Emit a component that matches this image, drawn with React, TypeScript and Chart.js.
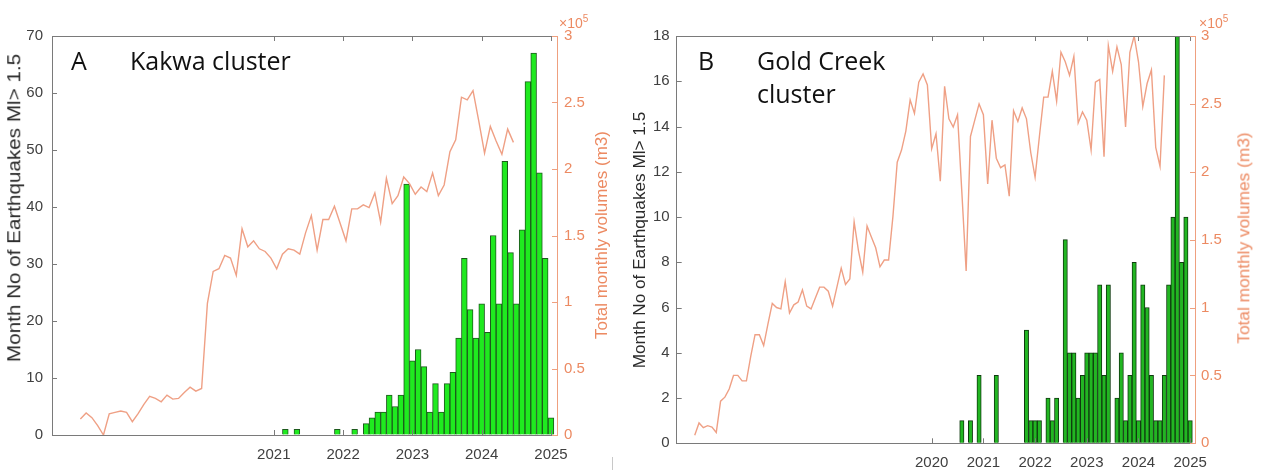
import React, { useEffect, useRef } from 'react';
import { Chart, registerables } from 'chart.js';

Chart.register(...registerables);

// ---------- DATA ----------
// Panel A – Kakwa cluster
const yearTicksA = [2021, 2022, 2023, 2024, 2025];
const quakesAStart = 2021; // first monthly bar (decimal year)
const quakesA = [
  0, 0, 1, 0, 1, 0, 0, 0, 0, 0, 0, 1, 0, 0, 1, 0,
  2, 3, 4, 4, 7, 5, 7, 44, 13, 15, 12, 4, 9, 4, 9, 11, 17,
  31, 22, 17, 23, 18, 35, 23, 48, 32, 23, 36, 62, 67, 46, 31, 3,
];
const volumesAStart = 2018 + 2.5 / 12; // first monthly volume
const volumesA = [
  12000, 16500, 13000, 7000, 0, 16000, 17000, 18000, 17000, 10000,
  16000, 23000, 29000, 27500, 25000, 30000, 27000, 27500, 32000, 36000,
  33000, 35000, 99000, 123000, 125000, 135000, 133000, 120000, 155000, 141500,
  146000, 140000, 138000, 133000, 125000, 136000, 140000, 139000, 136000, 152000,
  165000, 139000, 162000, 162000, 172000, 159000, 146000, 170000, 170000, 173000,
  171000, 182000, 160000, 193000, 174000, 180000, 194000, 189000, 181000, 186500,
  183000, 197000, 180000, 188000, 213000, 222000, 254000, 252000, 259000, 236000,
  212000, 232000, 221000, 211000, 230000, 220000,
];

// Panel B – Gold Creek cluster
const yearTicksB = [2020, 2021, 2022, 2023, 2024, 2025];
const quakesBStart = 2020;
const quakesB = [
  0, 0, 0, 0, 0, 0, 0, 1, 0, 1, 0, 3, 0, 0, 0, 3,
  0, 0, 0, 0, 0, 0, 5, 1, 1, 1, 0, 2, 1, 2, 0, 9,
  4, 4, 2, 3, 4, 4, 4, 7, 3, 7, 0, 2, 4, 1, 3, 8,
  1, 7, 6, 3, 1, 1, 3, 7, 10, 18, 8, 10, 1,
];
const volumesBStart = 2015 + 5 / 12;
const volumesB = [
  6000, 15000, 11500, 13000, 12000, 8000, 31000, 34000, 40000, 50000,
  50000, 46000, 46000, 64000, 80000, 80000, 72000, 88000, 103000, 100000,
  99000, 119000, 96000, 102000, 104000, 113000, 101000, 99000, 107000, 115000,
  115000, 112000, 101000, 115000, 129000, 117000, 121000, 163000, 142000, 126000,
  160000, 152000, 144000, 130000, 135000, 135000, 167000, 207000, 216000, 230000,
  253000, 243000, 266000, 272000, 264000, 217000, 228000, 193000, 263000, 239000,
  233000, 242000, 185000, 127000, 226000, 238000, 250000, 242000, 191000, 238000,
  210000, 203000, 205000, 182000, 245000, 237000, 247000, 239000, 214000, 196000,
  226000, 255000, 255000, 274000, 252000, 288000, 281000, 271000, 285000, 236000,
  244000, 238000, 216000, 266000, 268000, 211000, 293000, 274000, 292000, 279000,
  233000, 288000, 300000, 281000, 248000, 265000, 275000, 218000, 204000, 271000,
];

// ---------- STYLE ----------
const FONT = "'Liberation Sans', Arial, sans-serif";
const FRAME = '#7a7a7a';
const TICK_TXT = '#404040';
const ORANGE_AX = '#EFA07F';
const ORANGE_TXT = '#EC8A62';
const LINE_COLOR = '#EFA085';

const frameTicks = {
  id: 'frameTicks',
  afterDraw(chart: any) {
    const { ctx, chartArea: a, scales } = chart;
    const L = 5;
    ctx.save();
    ctx.lineWidth = 1;
    ctx.strokeStyle = FRAME;
    ctx.beginPath();
    const top = Math.round(a.top) + 0.5;
    ctx.moveTo(a.left, top);
    ctx.lineTo(a.right, top);
    scales.x.ticks.forEach((t: any) => {
      const px = Math.round(scales.x.getPixelForValue(t.value)) + 0.5;
      ctx.moveTo(px, a.bottom);
      ctx.lineTo(px, a.bottom - L);
      ctx.moveTo(px, a.top);
      ctx.lineTo(px, a.top + L);
    });
    scales.y.ticks.forEach((t: any) => {
      const py = Math.round(scales.y.getPixelForValue(t.value)) + 0.5;
      ctx.moveTo(a.left, py);
      ctx.lineTo(a.left + L, py);
    });
    ctx.stroke();
    ctx.strokeStyle = ORANGE_AX;
    ctx.beginPath();
    scales.y1.ticks.forEach((t: any) => {
      const py = Math.round(scales.y1.getPixelForValue(t.value)) + 0.5;
      ctx.moveTo(a.right, py);
      ctx.lineTo(a.right - L, py);
    });
    ctx.stroke();
    ctx.restore();
  },
};

type PanelCfg = {
  left: number; w: number; h: number; top: number;
  yW: number; y1W: number; xH: number;
  xMin: number; xMax: number; yMax: number; yStep: number;
  years: number[];
  quakes: number[]; quakesStart: number;
  volumes: number[]; volumesStart: number;
  barFill: string; barEdge: string;
  yPad: number; y1Pad: number; xPad: number;
};

function buildConfig(p: PanelCfg): any {
  const tickFont = { family: FONT, size: 15 };
  return {
    type: 'bar',
    data: {
      datasets: [
        {
          type: 'line',
          data: p.volumes.map((v, i) => ({ x: p.volumesStart + i / 12, y: v })),
          yAxisID: 'y1',
          borderColor: LINE_COLOR,
          borderWidth: 1.4,
          pointRadius: 0,
          tension: 0,
          order: 0,
        },
        {
          type: 'bar',
          data: p.quakes.map((v, k) => ({ x: p.quakesStart + k / 12, y: v === 0 ? null : v })),
          yAxisID: 'y',
          backgroundColor: p.barFill,
          borderColor: p.barEdge,
          borderWidth: 1,
          barPercentage: 1,
          categoryPercentage: 1,
          order: 1,
        },
      ],
    },
    options: {
      responsive: false,
      animation: false,
      events: [],
      layout: { padding: { top: p.top, left: 0, right: 0, bottom: 0 } },
      plugins: { legend: { display: false }, tooltip: { enabled: false } },
      scales: {
        x: {
          type: 'linear',
          position: 'bottom',
          min: p.xMin,
          max: p.xMax,
          offset: false,
          grid: { display: true, drawOnChartArea: false, drawTicks: false, offset: false },
          border: { display: true, color: FRAME, width: 1 },
          afterBuildTicks: (s: any) => { s.ticks = p.years.map((v) => ({ value: v })); },
          ticks: { callback: (v: any) => String(v), font: tickFont, color: TICK_TXT, padding: p.xPad, maxRotation: 0, autoSkip: false },
          afterFit: (s: any) => { s.height = p.xH; },
        },
        y: {
          position: 'left',
          min: 0,
          max: p.yMax,
          grid: { display: true, drawOnChartArea: false, drawTicks: false },
          border: { display: true, color: FRAME, width: 1 },
          ticks: { stepSize: p.yStep, font: tickFont, color: TICK_TXT, padding: p.yPad },
          afterFit: (s: any) => { s.width = p.yW; },
        },
        y1: {
          position: 'right',
          min: 0,
          max: 300000,
          grid: { display: true, drawOnChartArea: false, drawTicks: false },
          border: { display: true, color: ORANGE_AX, width: 1 },
          ticks: { stepSize: 50000, callback: (v: any) => String(Number(v) / 1e5), font: tickFont, color: ORANGE_TXT, padding: p.y1Pad },
          afterFit: (s: any) => { s.width = p.y1W; },
        },
      },
    },
    plugins: [frameTicks],
  };
}

function Panel({ cfg }: { cfg: PanelCfg }) {
  const ref = useRef<HTMLCanvasElement>(null);
  useEffect(() => {
    const chart = new Chart(ref.current as HTMLCanvasElement, buildConfig(cfg));
    return () => chart.destroy();
  }, []);
  return (
    <canvas
      ref={ref}
      width={cfg.w}
      height={cfg.h}
      style={{ position: 'absolute', left: cfg.left, top: 0, width: cfg.w, height: cfg.h }}
    />
  );
}

function Txt({ x, y, size, color, children, family }: any) {
  return (
    <div style={{ position: 'absolute', left: x, top: y, fontSize: size, color, fontFamily: family || FONT, lineHeight: 1, whiteSpace: 'nowrap' }}>
      {children}
    </div>
  );
}

function VTxt({ cx, cy, size, color, stretch, children }: any) {
  return (
    <div
      style={{
        position: 'absolute', left: cx, top: cy, fontSize: size, color, fontFamily: FONT,
        lineHeight: 1, whiteSpace: 'nowrap',
        transform: `translate(-50%, -50%) rotate(-90deg) scaleX(${stretch || 1})`,
      }}
    >
      {children}
    </div>
  );
}

const panelA: PanelCfg = {
  left: 0, w: 620, h: 470, top: 36, yW: 52, y1W: 63, xH: 35,
  xMin: 2017.799, xMax: 2025.087, yMax: 70, yStep: 10, years: yearTicksA,
  quakes: quakesA, quakesStart: quakesAStart, volumes: volumesA, volumesStart: volumesAStart,
  barFill: '#1FEA1F', barEdge: '#1d5a1d', yPad: 9, y1Pad: 7, xPad: 11,
};

const panelB: PanelCfg = {
  left: 630, w: 632, h: 470, top: 36, yW: 46.7, y1W: 67, xH: 26.7,
  xMin: 2015.068, xMax: 2025.093, yMax: 18, yStep: 2, years: yearTicksB,
  quakes: quakesB, quakesStart: quakesBStart, volumes: volumesB, volumesStart: volumesBStart,
  barFill: '#22B622', barEdge: '#0f3a0f', yPad: 7, y1Pad: 6, xPad: 11,
};

const TITLE_FONT = "'Open Sans', 'Noto Sans', sans-serif";

export default function App() {
  return (
    <div style={{ position: 'absolute', left: 0, top: 0, width: 1262, height: 470, background: '#fff', overflow: 'hidden' }}>
      <Panel cfg={panelA} />
      <Panel cfg={panelB} />

      <Txt x={71} y={48} size={25} color="#111" family={TITLE_FONT}>A</Txt>
      <Txt x={130} y={48} size={25} color="#111" family={TITLE_FONT}>Kakwa cluster</Txt>
      <Txt x={698} y={48} size={25} color="#111" family={TITLE_FONT}>B</Txt>
      <Txt x={757} y={48} size={25} color="#111" family={TITLE_FONT}>Gold Creek</Txt>
      <Txt x={757} y={81} size={25} color="#111" family={TITLE_FONT}>cluster</Txt>

      <VTxt cx={15} cy={208} size={17.5} stretch={1.18} color="#2b2b2b">Month No of Earthquakes Ml&gt; 1.5</VTxt>
      <VTxt cx={601} cy={235} size={17} color={ORANGE_TXT}>Total monthly volumes (m3)</VTxt>
      <VTxt cx={640} cy={240} size={17.2} color="#2b2b2b">Month No of Earthquakes Ml&gt; 1.5</VTxt>
      <VTxt cx={1244} cy={238} size={17.3} color={ORANGE_TXT}>Total monthly volumes (m3)</VTxt>

      <Txt x={559} y={16} size={14} color={ORANGE_TXT}>
        ×10<span style={{ fontSize: 10, position: 'relative', top: -6 }}>5</span>
      </Txt>
      <Txt x={1199} y={16} size={14} color={ORANGE_TXT}>
        ×10<span style={{ fontSize: 10, position: 'relative', top: -6 }}>5</span>
      </Txt>

      <div style={{ position: 'absolute', left: 612, top: 457, width: 1, height: 13, background: '#c8c8c8' }} />
    </div>
  );
}
